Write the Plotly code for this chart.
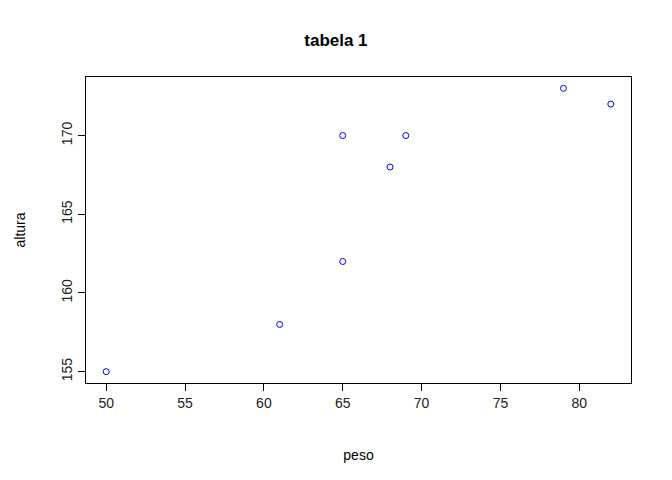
import plotly.graph_objects as go

peso = [50, 61, 65, 65, 68, 69, 79, 82]
altura = [155, 158, 162, 170, 168, 170, 173, 172]
x_ticks = [50, 55, 60, 65, 70, 75, 80]
y_ticks = [155, 160, 165, 170]

fig = go.Figure()
fig.add_trace(go.Scatter(
    x=peso, y=altura, mode='markers',
    marker=dict(symbol='circle-open', color='blue', size=6, line=dict(width=1))
))

axis_style = dict(showgrid=False, zeroline=False, showline=True, linecolor='black',
                  linewidth=1, mirror=True, ticks='outside', ticklen=7,
                  tickcolor='black', tickfont=dict(size=14, color='#222'))

fig.update_layout(
    width=672, height=480,
    margin=dict(l=71, r=49, t=69, b=105),
    paper_bgcolor='white', plot_bgcolor='white',
    font=dict(family='Liberation Sans, Arial', color='black'),
    title=dict(text='<b>tabela 1</b>', x=0.488, xanchor='center', y=0.934,
               yanchor='middle', font=dict(size=17)),
    showlegend=False,
    xaxis=dict(range=[48.72, 83.28], tickvals=x_ticks,
               title=dict(text='peso', font=dict(size=14), standoff=40), **axis_style),
    yaxis=dict(range=[154.28, 173.72], tickvals=y_ticks, tickangle=-90,
               title=dict(text='altura', font=dict(size=14), standoff=30), **axis_style),
)

fig.write_html("out.html")
